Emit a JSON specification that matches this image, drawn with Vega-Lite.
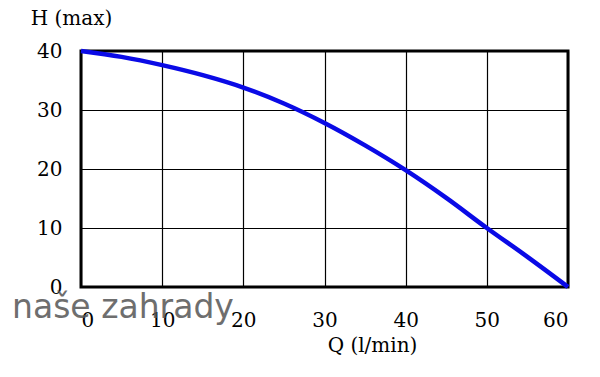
{
  "$schema": "https://vega.github.io/schema/vega-lite/v6.json",
  "width": 487,
  "height": 236,
  "autosize": {"type": "none"},
  "padding": {"left": 81, "top": 51, "right": 32, "bottom": 90},
  "background": "white",
  "config": {
    "view": {"stroke": "black", "strokeWidth": 3},
    "axis": {
      "labelFont": "DejaVu Serif",
      "titleFont": "DejaVu Serif",
      "labelFontSize": 20,
      "titleFontSize": 20,
      "titleFontWeight": "normal",
      "labelColor": "black",
      "titleColor": "black",
      "grid": true,
      "gridColor": "black",
      "gridOpacity": 1,
      "gridWidth": 1.2,
      "domain": false,
      "ticks": false
    }
  },
  "datasets": {
    "curve": [
      {"Q": 0, "H": 40},
      {"Q": 5, "H": 39},
      {"Q": 10, "H": 37.6},
      {"Q": 15, "H": 35.9},
      {"Q": 20, "H": 33.8},
      {"Q": 25, "H": 31.1},
      {"Q": 30, "H": 27.8},
      {"Q": 35, "H": 24.0},
      {"Q": 40, "H": 19.8},
      {"Q": 45, "H": 15.1},
      {"Q": 50, "H": 10},
      {"Q": 55, "H": 5.1},
      {"Q": 60, "H": 0}
    ],
    "mark": [
      {"Q": -8.5, "H": -5.2, "label": "naše zahrady"}
    ]
  },
  "layer": [
    {
      "data": {"name": "curve"},
      "mark": {"type": "line", "color": "#0a0ae6", "strokeWidth": 4.5, "interpolate": "monotone", "clip": false},
      "encoding": {
        "x": {
          "field": "Q", "type": "quantitative",
          "scale": {"domain": [0, 60], "nice": false, "zero": false},
          "axis": {
            "values": [0, 10, 20, 30, 40, 50, 60],
            "title": "Q (l/min)",
            "labelPadding": 23,
            "labelDx": -6,
            "titleX": 291,
            "titleY": 58,
            "titleBaseline": "middle",
            "titleAlign": "center"
          }
        },
        "y": {
          "field": "H", "type": "quantitative",
          "scale": {"domain": [0, 40], "nice": false},
          "axis": {
            "values": [0, 10, 20, 30, 40],
            "title": "H (max)",
            "titleAngle": 0,
            "titleX": -10,
            "titleY": -33,
            "titleAlign": "center",
            "titleBaseline": "middle",
            "labelPadding": 19,
            "labelBaseline": "middle"
          }
        }
      }
    },
    {
      "data": {"name": "mark"},
      "mark": {"type": "text", "font": "DejaVu Sans", "fontSize": 33, "color": "#555555", "opacity": 0.85, "align": "left", "baseline": "alphabetic", "clip": false},
      "encoding": {
        "x": {"field": "Q", "type": "quantitative"},
        "y": {"field": "H", "type": "quantitative"},
        "text": {"field": "label"}
      }
    }
  ]
}
